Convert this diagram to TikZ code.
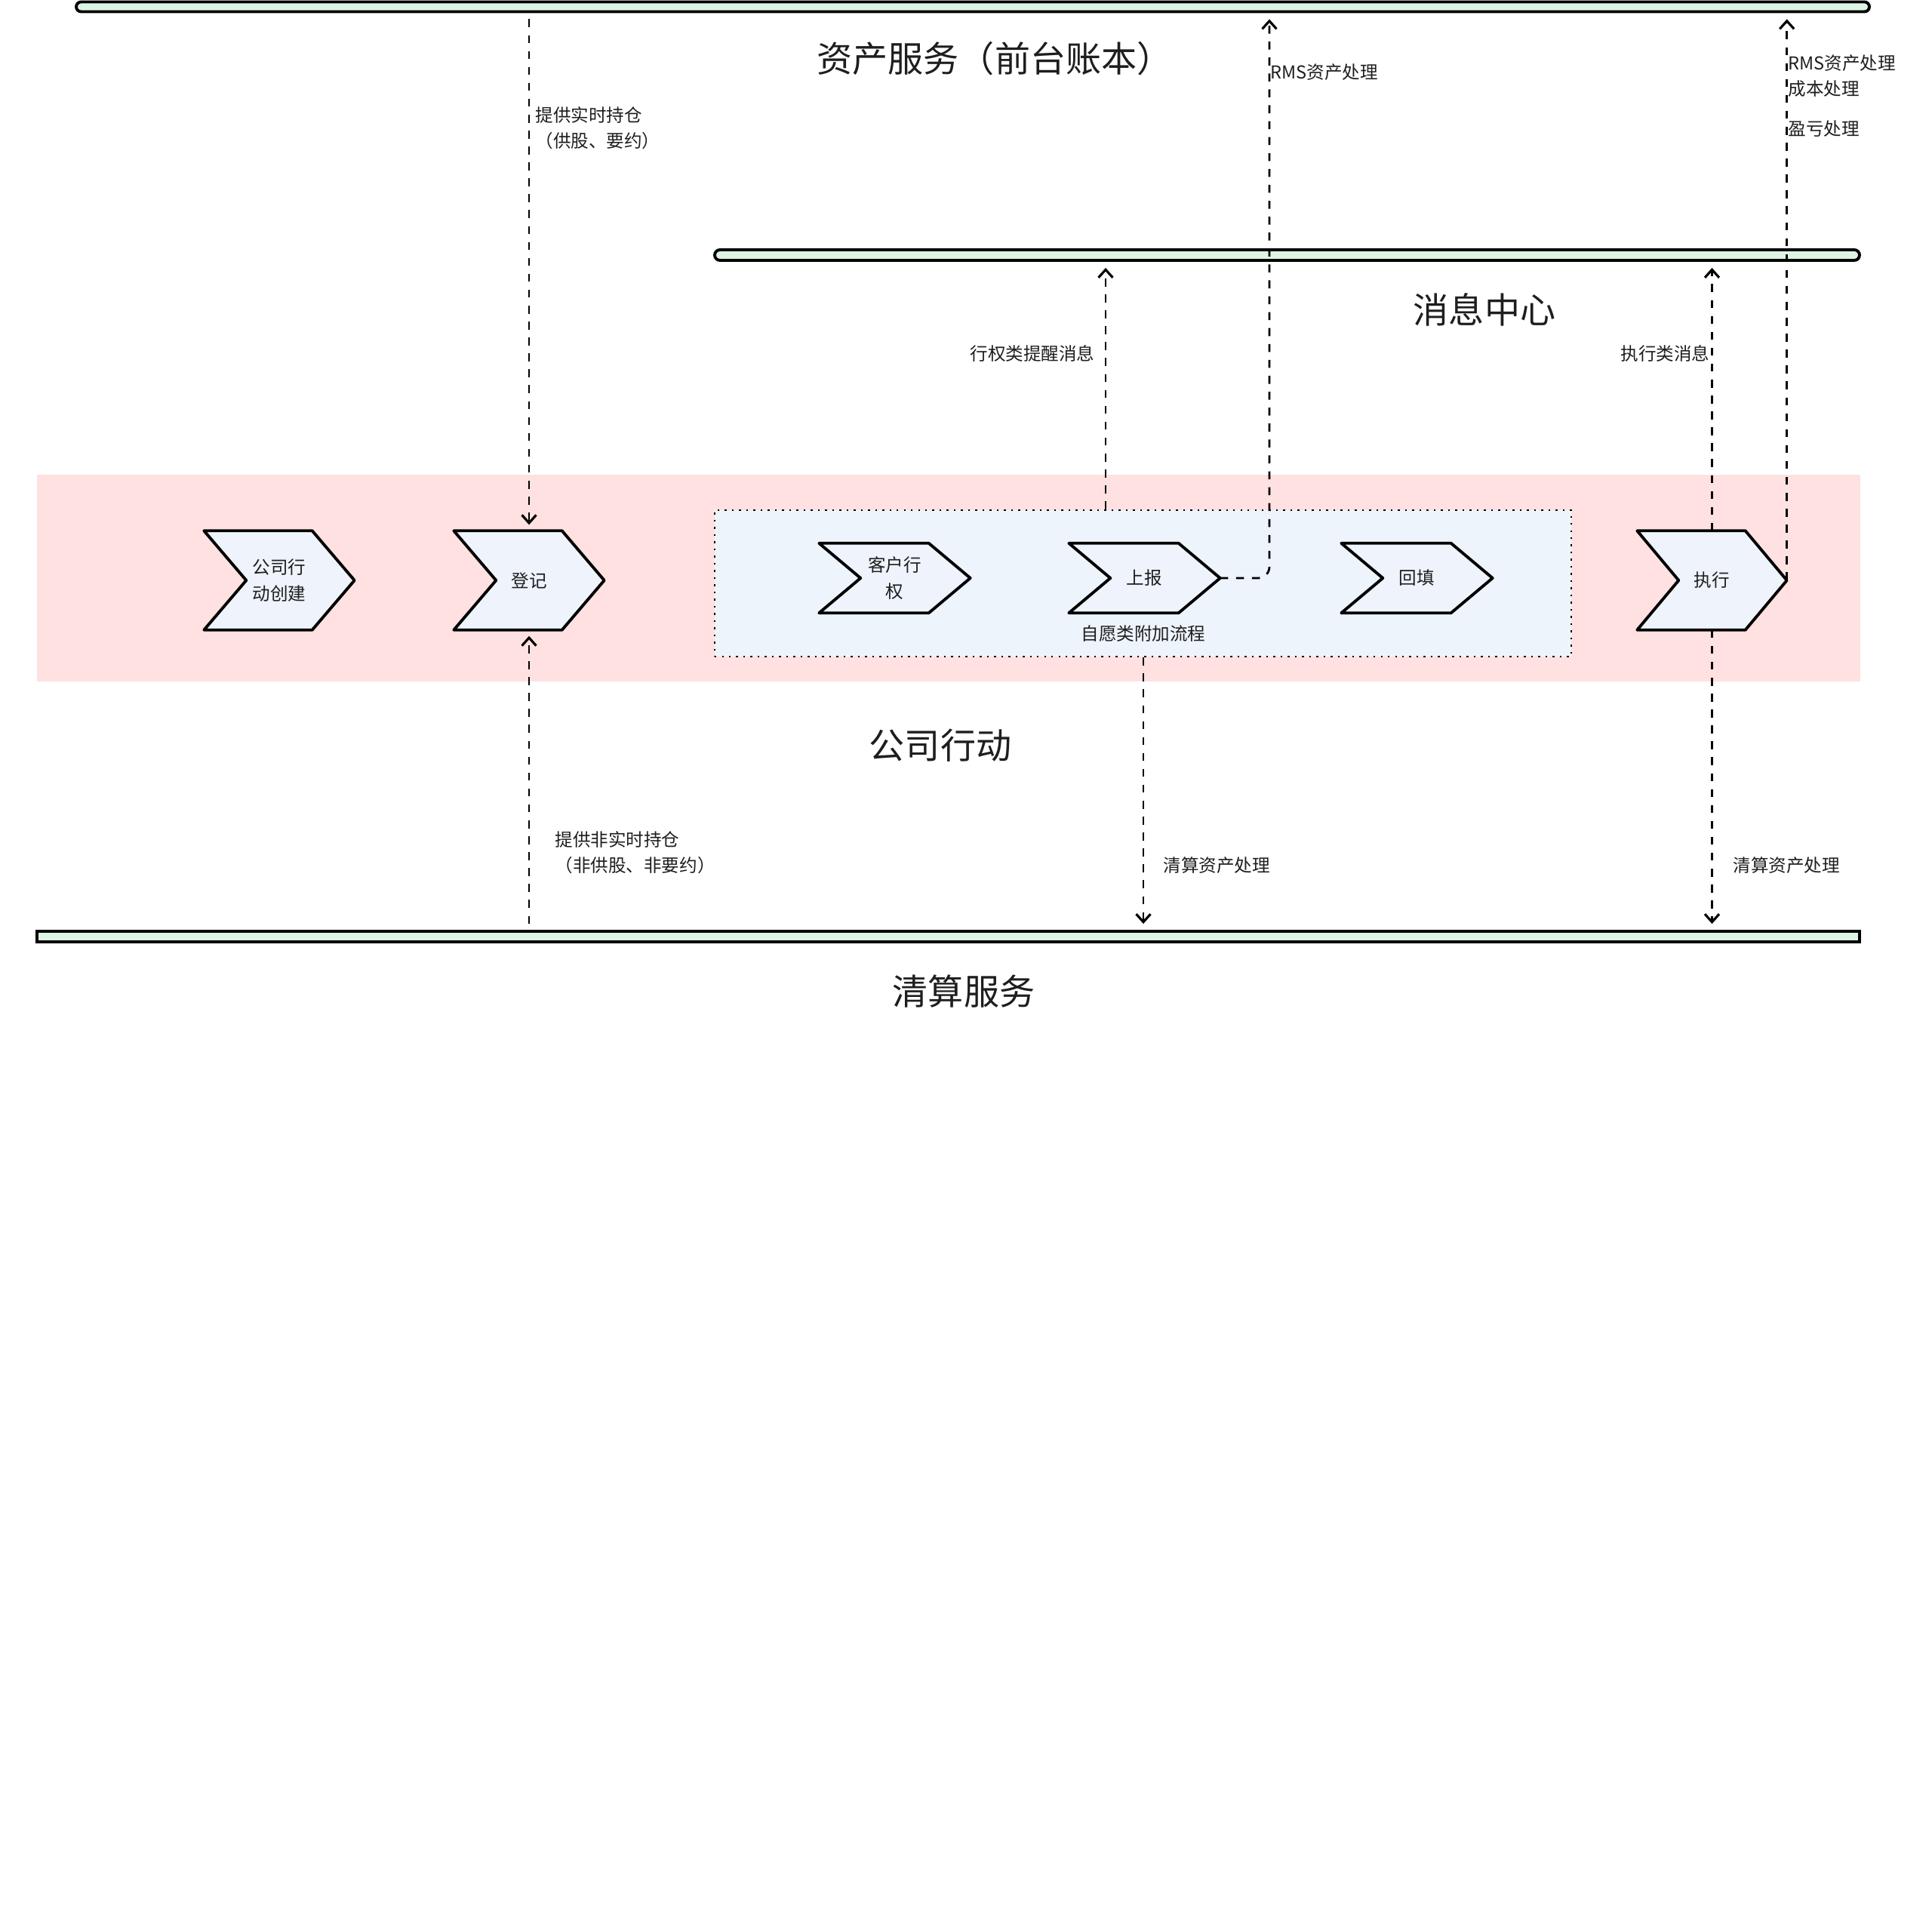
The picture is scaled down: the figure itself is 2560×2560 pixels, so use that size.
\documentclass[tikz,border=0pt]{standalone}
\usepackage{fontspec}
\setmainfont{Noto Sans CJK SC}
\usetikzlibrary{arrows.meta}

\definecolor{barfill}{HTML}{DDF3E4}
\definecolor{bandfill}{HTML}{FFE1E1}
\definecolor{chevfill}{HTML}{EEF3FC}
\definecolor{groupfill}{HTML}{EEF4FC}
\definecolor{ink}{HTML}{1E1E1E}

\newcommand\lblfont{\fontsize{6.7pt}{9.7pt}\selectfont}
\newcommand\ttlfont{\fontsize{13.4pt}{15pt}\selectfont}

\pgfdeclarelayer{back}
\pgfdeclarelayer{mid}
\pgfsetlayers{back,mid,main}

% chevron outline drawn inside the rectangle of node #1, point depth #2
\newcommand\chevshape[2]{%
  \begin{pgfonlayer}{mid}
    \filldraw[chevline] (#1.north west) -- ([xshift=-#2]#1.north east) -- (#1.east)
      -- ([xshift=-#2]#1.south east) -- (#1.south west) -- ([xshift=#2]#1.west) -- cycle;
  \end{pgfonlayer}}

\tikzset{
  bar/.style={draw=black, line width=1.1pt, fill=barfill, inner sep=0pt},
  chevline/.style={draw=black, line width=1.1pt, fill=chevfill, line join=round},
  chevtext/.style={inner sep=0pt, align=center, text=ink, font=\lblfont},
  conn/.style={draw=black, line width=0.8pt, dash pattern=on 3pt off 3pt,
    -{Straight Barb[length=3pt, width=5.4pt, line width=0.9pt]}, shorten >=0.8mm},
  lbl/.style={text=ink, font=\lblfont, inner sep=0pt, align=left},
  ttl/.style={text=ink, font=\ttlfont, inner sep=0pt},
}

\begin{document}
\begin{tikzpicture}[x=0.1mm, y=-0.1mm]
\useasboundingbox (0,0) rectangle (2560,2560);

% lanes and group box
\begin{pgfonlayer}{back}
  \node[fill=bandfill, inner sep=0pt, minimum width=241.6mm, minimum height=27.4mm] (band) at (1257,766) {};
  \node[draw=black, dotted, line width=0.7pt, fill=groupfill, inner sep=0pt,
        minimum width=113.5mm, minimum height=19.4mm] (vol) at (1514.5,773) {};
\end{pgfonlayer}

% service bars
\node[bar, rounded corners=0.65mm, minimum width=237.6mm, minimum height=1.3mm] (assetbar) at (1289,9) {};
\node[bar, rounded corners=0.7mm, minimum width=151.7mm, minimum height=1.4mm] (msgbar) at (1705.5,338) {};
\node[bar, minimum width=241.5mm, minimum height=1.4mm] (clrbar) at (1256.5,1241) {};

% bar titles
\node[ttl] (assetttl) at (1318,78) {资产服务（前台账本）};
\node[ttl] (msgttl) at (1967,410) {消息中心};
\node[ttl] (cattl) at (1246,988) {公司行动};
\node[ttl] (clrttl) at (1277,1313) {清算服务};

% process steps
\node[chevtext, minimum width=19.8mm, minimum height=13mm] (create) at (370,769) {公司行\\动创建};
\chevshape{create}{5.6mm}
\node[chevtext, minimum width=19.8mm, minimum height=13mm] (reg) at (701,769) {登记};
\chevshape{reg}{5.6mm}
\node[chevtext, minimum width=19.9mm, minimum height=9.1mm] (exer) at (1185.5,766) {客户行\\权};
\chevshape{exer}{5.5mm}
\node[chevtext, minimum width=19.9mm, minimum height=9.1mm] (report) at (1516.5,766) {上报};
\chevshape{report}{5.5mm}
\node[chevtext, minimum width=19.9mm, minimum height=9.1mm] (backfill) at (1877.5,766) {回填};
\chevshape{backfill}{5.5mm}
\node[chevtext, minimum width=19.7mm, minimum height=13mm] (exec) at (2268.5,769) {执行};
\chevshape{exec}{5.5mm}

\node[lbl] (voltxt) at (1515,840) {自愿类附加流程};

% connector columns
\coordinate (rmscol) at (1682,0);
\coordinate (remindcol) at (1465,0);
\coordinate (clrcol) at (1515,0);

% connectors
\draw[conn, shorten <=0.8mm] (assetbar.south -| reg.north) -- (reg.north);
\draw[conn, shorten <=0.8mm] (clrbar.north -| reg.south) -- (reg.south);
\draw[conn, rounded corners=1.5mm] (report.east) -| (assetbar.south -| rmscol);
\draw[conn] (vol.north -| remindcol) -- (msgbar.south -| remindcol);
\draw[conn] (exec.north) -- (msgbar.south -| exec.north);
\draw[conn] (exec.east) -- (assetbar.south -| exec.east);
\draw[conn] (vol.south -| clrcol) -- (clrbar.north -| clrcol);
\draw[conn] (exec.south) -- (clrbar.north -| exec.south);

% connector labels
\node[lbl, anchor=west] (l1) at (709,170) {提供实时持仓\\（供股、要约）};
\node[lbl, anchor=west] (l2) at (735,1130) {提供非实时持仓\\（非供股、非要约）};
\node[lbl, anchor=west] (l3) at (1683,96) {RMS资产处理};
\node[lbl, anchor=west] (l4) at (2369,101) {RMS资产处理\\成本处理};
\node[lbl, anchor=west] (l5) at (2369,171) {盈亏处理};
\node[lbl, anchor=east] (l6) at (1451,468) {行权类提醒消息};
\node[lbl, anchor=east] (l7) at (2266,468) {执行类消息};
\node[lbl, anchor=west] (l8) at (1541,1147) {清算资产处理};
\node[lbl, anchor=west] (l9) at (2296,1147) {清算资产处理};
\end{tikzpicture}
\end{document}
